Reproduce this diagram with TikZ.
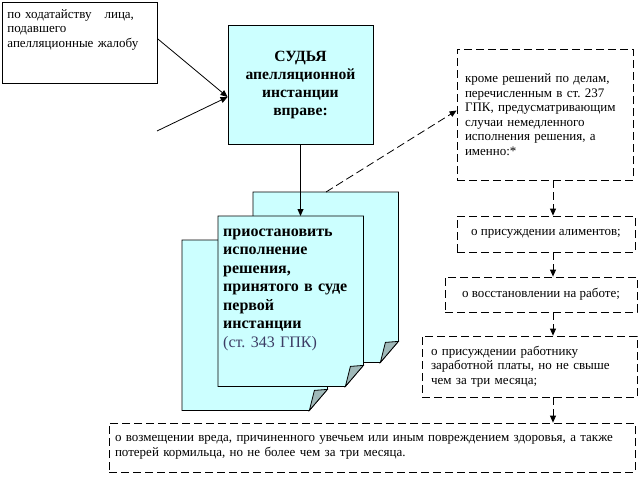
\documentclass[tikz,border=0pt]{standalone}
\usepackage{fontspec}
\setmainfont{Liberation Serif}
\frenchspacing
\usetikzlibrary{arrows.meta}
\definecolor{paper}{RGB}{204,255,255}
\definecolor{foldgray}{RGB}{160,185,185}
\definecolor{refnote}{RGB}{60,60,100}
\tikzstyle{judge}=[shape=rectangle,draw,fill=paper,line width=0.9pt,minimum width=145pt,minimum height=119pt,align=center,font=\fontsize{15.6}{18}\selectfont\bfseries]
\tikzstyle{request}=[shape=rectangle,draw,line width=0.8pt,anchor=north west,inner sep=5pt,text width=145pt,align=left,font=\fontsize{13}{14.5}\selectfont]
\tikzstyle{item}=[shape=rectangle,draw,dash pattern=on 8pt off 4pt,line width=0.8pt,font=\fontsize{13}{14.5}\selectfont]
\tikzstyle{pagearea}=[shape=rectangle,inner sep=0pt,anchor=north west,minimum width=145pt,minimum height=170pt]
\tikzstyle{pageline}=[draw,fill=paper,line width=0.8pt]
\tikzstyle{fold}=[draw,fill=foldgray,line width=0.8pt]
\tikzstyle{pagetext}=[anchor=north west,inner xsep=5pt,inner ysep=0pt,text width=137pt,align=left,text height=20pt,font=\fontsize{16}{18.5}\selectfont\bfseries]
\tikzstyle{solidedge}=[-{Triangle[length=7pt,width=6pt]},line width=0.8pt]
\tikzstyle{dashedge}=[solidedge,dash pattern=on 8pt off 4pt]
% page with a folded corner, drawn round an empty node
\newcommand{\foldpage}[1]{%
  \path[pageline] (#1.north west) -- (#1.north east) -- ([yshift=21pt]#1.south east)
    -- ([xshift=-18pt]#1.south east) -- (#1.south west) -- cycle;
  \path[fold] ([yshift=21pt]#1.south east) -- ([xshift=-13pt,yshift=20pt]#1.south east)
    -- ([xshift=-18pt]#1.south east) -- cycle;}

\begin{document}
\begin{tikzpicture}[x=1pt,y=-1pt]
\useasboundingbox (0,0) rectangle (638,482);
% request and judge
\node[request,text height=11pt,text depth=60pt] (ask) at (2,2) {по ходатайству\ \ \ лица,\\ подавшего\\ апелляционные жалобу};
\node[judge] (judge) at (300.5,84.5) {СУДЬЯ\\ апелляционной\\ инстанции\\ вправе:};
\coordinate (loose) at (157,131);
\draw[solidedge] ([yshift=4pt]ask.east) -- ([yshift=-12.5pt]judge.west);
\draw[solidedge] (loose) -- ([yshift=-12.5pt]judge.west);
% pages
\node[pagearea] (back) at (253,192) {};
\node[pagearea] (left) at (182,240) {};
\node[pagearea] (front) at (218,216) {};
\foldpage{back}
\foldpage{left}
\foldpage{front}
\node[pagetext] (action) at (front.north west) {приостановить\\ исполнение\\ решения,\\ принятого в суде\\ первой\\ инстанции\\ \textmd{\color{refnote}(ст. 343 ГПК)}};
\draw[solidedge] (judge.south) -- (front.north -| judge.south);
% exceptions
\coordinate (tap) at (553,0);
\node[item,text width=160pt,align=left,inner xsep=8pt,minimum height=131pt] (except) at (545,114.5) {кроме решений по делам,\\ перечисленным в ст. 237\\ ГПК, предусматривающим\\ случаи немедленного\\ исполнения решения, а\\ именно:*};
\node[item,minimum width=178pt,minimum height=36pt] (alim) at (546,234) {о присуждении алиментов;};
\node[item,minimum width=192pt,minimum height=35pt] (work) at (541,294.5) {о восстановлении на работе;};
\node[item,text width=197pt,align=left,inner xsep=9pt,minimum height=61pt] (wage) at (529.5,366.5) {о присуждении работнику\\ заработной платы, но не свыше\\ чем за три месяца;};
\node[item,text width=514pt,align=left,inner xsep=6pt,minimum height=49pt] (harm) at (372,447.5) {о возмещении вреда, причиненного увечьем или иным повреждением здоровья, а также\\ потерей кормильца, но не более чем за три месяца.};
\draw[dashedge] ([xshift=73pt]back.north west) -- ([yshift=4pt]except.west);
\draw[dashedge] (except.south -| tap) -- (alim.north -| tap);
\draw[dashedge] (alim.south -| tap) -- (work.north -| tap);
\draw[dashedge] (work.south -| tap) -- (wage.north -| tap);
\draw[dashedge] (wage.south -| tap) -- (harm.north -| tap);
\end{tikzpicture}
\end{document}
